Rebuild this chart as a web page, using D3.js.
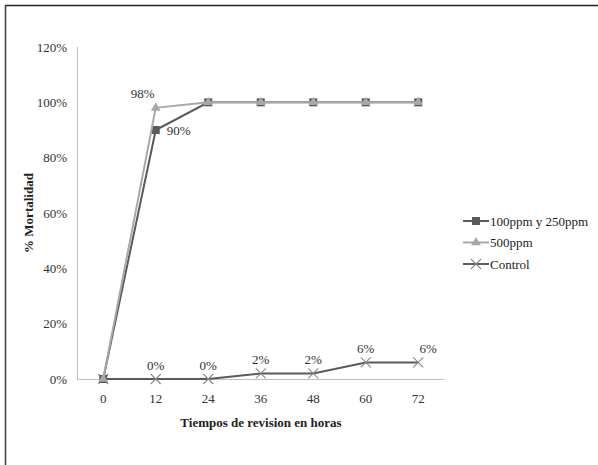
<!DOCTYPE html>
<html>
<head>
<meta charset="utf-8">
<script src="https://cdn.jsdelivr.net/npm/d3@7"></script>
<style>
  html, body { margin: 0; padding: 0; background: #fff; }
  svg { display: block; }
  svg text { font-family: "Liberation Serif", "Times New Roman", serif; }
</style>
</head>
<body>
<svg id="chart" width="598" height="465"></svg>
<script>
// Hours of observation and mortality per treatment
const hours = ["0", "12", "24", "36", "48", "60", "72"];
const lowDose = [0, 90, 100, 100, 100, 100, 100];   // 100ppm y 250ppm
const highDose = [0, 98, 100, 100, 100, 100, 100];  // 500ppm
const control = [0, 0, 0, 2, 2, 6, 6];
const yTicks = [0, 20, 40, 60, 80, 100, 120];

const svg = d3.select("#chart");

// frame lines (top and left)
svg.append("line").attr("x1", 5).attr("x2", 598).attr("y1", 5.5).attr("y2", 5.5)
  .attr("stroke", "#222").attr("stroke-width", 1.6);
svg.append("line").attr("x1", 5.5).attr("x2", 5.5).attr("y1", 5).attr("y2", 465)
  .attr("stroke", "#444").attr("stroke-width", 1.6);

const x = d3.scaleBand().domain(hours).range([77, 444.5]);
const y = d3.scaleLinear().domain([0, 120]).range([379, 47]);
const cx = h => x(h) + x.bandwidth() / 2;

// axes
svg.append("line").attr("x1", 77.5).attr("x2", 77.5).attr("y1", y(120)).attr("y2", y(0))
  .attr("stroke", "#bfbfbf");
svg.append("line").attr("x1", 77).attr("x2", 444.5).attr("y1", y(0) + 0.5).attr("y2", y(0) + 0.5)
  .attr("stroke", "#bfbfbf");

svg.append("g").selectAll("text").data(yTicks).join("text")
  .attr("x", 67).attr("y", d => y(d)).attr("dy", "0.35em")
  .attr("text-anchor", "end").attr("font-size", 13).attr("fill", "#333")
  .text(d => d + "%");

svg.append("g").selectAll("text").data(hours).join("text")
  .attr("x", d => cx(d)).attr("y", 398).attr("dy", "0.35em")
  .attr("text-anchor", "middle").attr("font-size", 13).attr("fill", "#333")
  .text(d => d);

// axis titles
svg.append("text").attr("transform", "translate(33,213) rotate(-90)")
  .attr("text-anchor", "middle").attr("font-size", 13).attr("font-weight", "bold")
  .attr("fill", "#222").text("% Mortalidad");
svg.append("text").attr("x", 261).attr("y", 427)
  .attr("text-anchor", "middle").attr("font-size", 13).attr("font-weight", "bold")
  .attr("fill", "#222").text("Tiempos de revision en horas");

const line = d3.line().x((d, i) => cx(hours[i])).y(d => y(d));

const series = [
  { name: "100ppm y 250ppm", values: lowDose, color: "#5a5a5a", marker: "square", mcolor: "#5a5a5a" },
  { name: "500ppm", values: highDose, color: "#a8a8a8", marker: "triangle", mcolor: "#a8a8a8" },
  { name: "Control", values: control, color: "#5a5a5a", marker: "cross", mcolor: "#8a8a8a" }
];

function drawMarker(g, type, px, py, col) {
  if (type === "square") {
    g.append("rect").attr("x", px - 4).attr("y", py - 4).attr("width", 8).attr("height", 8).attr("fill", col);
  } else if (type === "triangle") {
    g.append("path").attr("d", d3.symbol().type(d3.symbolTriangle).size(40)())
      .attr("transform", `translate(${px},${py})`).attr("fill", col);
  } else {
    g.append("path").attr("d", `M${px - 5},${py - 5}L${px + 5},${py + 5}M${px - 5},${py + 5}L${px + 5},${py - 5}`)
      .attr("stroke", col).attr("stroke-width", 1.1).attr("fill", "none");
  }
}

// draw control first so treatment lines sit over it at hour 0
[series[2], series[0], series[1]].forEach(s => {
  const g = svg.append("g");
  g.append("path").datum(s.values).attr("d", line)
    .attr("fill", "none").attr("stroke", s.color).attr("stroke-width", 2);
  s.values.forEach((v, i) => drawMarker(g, s.marker, cx(hours[i]), y(v), s.mcolor));
});

// value labels
svg.append("text").attr("x", cx("12") - 13).attr("y", y(highDose[1]) - 10)
  .attr("text-anchor", "middle").attr("font-size", 13).attr("fill", "#333").text(highDose[1] + "%");
svg.append("text").attr("x", cx("12") + 11).attr("y", y(lowDose[1])).attr("dy", "0.35em")
  .attr("text-anchor", "start").attr("font-size", 13).attr("fill", "#333").text(lowDose[1] + "%");

svg.append("g").selectAll("text").data(control.slice(1)).join("text")
  .attr("x", (d, i) => cx(hours[i + 1]) + (i === 5 ? 10 : 0))
  .attr("y", d => y(d) - 9)
  .attr("text-anchor", "middle").attr("font-size", 13).attr("fill", "#333")
  .text(d => d + "%");

// legend
const legend = svg.append("g");
series.forEach((s, i) => {
  const ly = 221 + i * 21.5;
  legend.append("line").attr("x1", 463).attr("x2", 489).attr("y1", ly).attr("y2", ly)
    .attr("stroke", s.color).attr("stroke-width", 2);
  drawMarker(legend, s.marker, 476, ly, s.mcolor);
  legend.append("text").attr("x", 490).attr("y", ly).attr("dy", "0.35em")
    .attr("font-size", 13).attr("fill", "#222").text(s.name);
});
</script>
</body>
</html>
